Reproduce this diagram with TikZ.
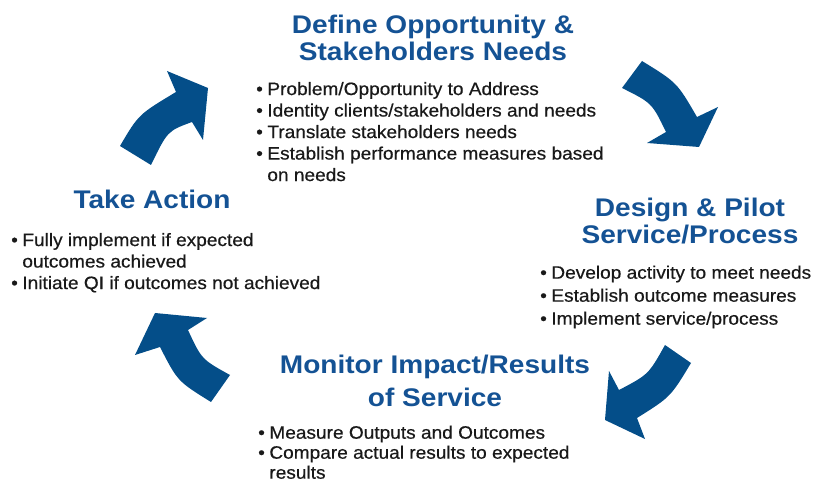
\documentclass[tikz,border=0pt]{standalone}
\usepackage{fontspec}
\setmainfont{Liberation Sans}[FakeStretch=1.06,FakeBold=0.5]
\newfontfamily\headfont{Liberation Sans}[FakeStretch=1.1]
\definecolor{cyclearrow}{RGB}{4,78,137}
\definecolor{headblue}{RGB}{20,82,148}
\definecolor{bodytext}{RGB}{25,25,25}
\newcommand\blt{\textbullet\hspace{4.5pt}}
\newcommand\cont{\hphantom{\blt}}
\tikzset{
  head/.style={font=\headfont\bfseries\fontsize{25.5}{27}\selectfont,
    text=headblue, align=center, inner sep=0pt, anchor=north},
  items/.style={font=\fontsize{18}{21.5}\selectfont, text=bodytext,
    align=left, inner sep=0pt, anchor=north west},
  cyc/.style={fill=cyclearrow, draw=none}
}
\begin{document}
\begin{tikzpicture}[x=1pt,y=-1pt]
\useasboundingbox (0,0) rectangle (815,481);

% stage titles (top of node = first baseline - strut height)
\node[head] (define) at (433,14.1) {\strut Define Opportunity \&\\Stakeholders Needs};
\node[head] (action) at (152,189.1) {\strut Take Action};
\node[head] (design) at (690,197.1) {\strut Design \& Pilot\\Service/Process};
\node[head, font=\headfont\bfseries\fontsize{25.5}{33}\selectfont]
  (monitor) at (435,349.9) {\strut Monitor Impact/Results\\of Service};

% stage details
\node[items] (definelist) at (256,79.8) {\strut\blt Problem/Opportunity to Address\\
  \blt Identity clients/stakeholders and needs\\
  \blt Translate stakeholders needs\\
  \blt Establish performance measures based\\
  \cont on needs};
\node[items] (actionlist) at (11,230.8) {\strut\blt Fully implement if expected\\
  \cont outcomes achieved\\
  \blt Initiate QI if outcomes not achieved};
\node[items, font=\fontsize{18}{23}\selectfont] (designlist) at (540,262.4)
  {\strut\blt Develop activity to meet needs\\
  \blt Establish outcome measures\\
  \blt Implement service/process};
\node[items, font=\fontsize{18}{20}\selectfont] (monitorlist) at (258,424.5)
  {\strut\blt Measure Outputs and Outcomes\\
  \blt Compare actual results to expected\\
  \cont results};

% curved block arrows of the cycle
% define -> design
\fill[cyc] (642,61) .. controls (677,82.5) .. (697,117) -- (718,107) -- (699,147)
  -- (647,143) -- (666,132) .. controls (652,103) .. (622,88) -- cycle;
% design -> monitor
\fill[cyc] (691,363) .. controls (670.5,397) .. (637,418) -- (645,439) -- (605,420)
  -- (609,371) -- (619,390) .. controls (648.5,374.5) .. (665,345) -- cycle;
% monitor -> action
\fill[cyc] (211,402) .. controls (177.6,381.3) .. (160,347) -- (135,355) -- (155,313)
  -- (207,318) -- (188,330) .. controls (201.6,359.3) .. (230,375) -- cycle;
% action -> define
\fill[cyc] (120,146) .. controls (138.5,114.5) .. (176,92) -- (167,71) -- (208,88)
  -- (203,140) -- (192,122) .. controls (167.5,131) .. (151,165) -- cycle;
\end{tikzpicture}
\end{document}
